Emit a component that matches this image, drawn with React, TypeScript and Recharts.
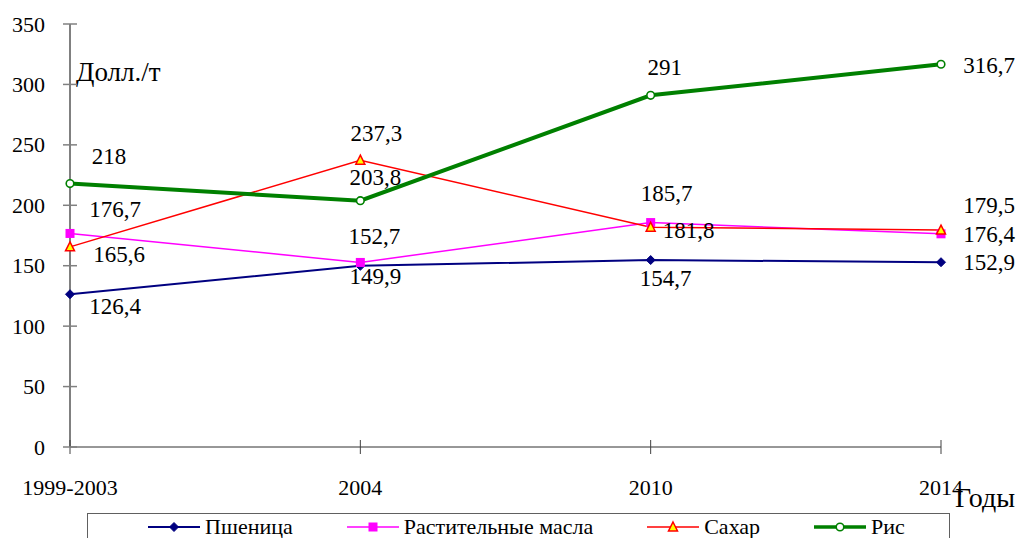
import React from "react";
import { LineChart, Line, XAxis, YAxis, Legend, LabelList } from "recharts";

const years = ["1999-2003", "2004", "2010", "2014"];
const wheat = [126.4, 149.9, 154.7, 152.9];
const oil = [176.7, 152.7, 185.7, 176.4];
const sugar = [165.6, 237.3, 181.8, 179.5];
const rice = [218, 203.8, 291, 316.7];
const yTicks = [0, 50, 100, 150, 200, 250, 300, 350];

const FONT = "Liberation Serif, Tinos, DejaVu Serif, serif";

type Key = "wheat" | "oil" | "sugar" | "rice";

const SERIES: { key: Key; name: string; color: string; width: number }[] = [
  { key: "wheat", name: "Пшеница", color: "#000080", width: 2 },
  { key: "oil", name: "Растительные масла", color: "#FF00FF", width: 1.5 },
  { key: "sugar", name: "Сахар", color: "#FF0000", width: 1.5 },
  { key: "rice", name: "Рис", color: "#008000", width: 4 },
];

// label centre offsets from each point, per series
const LABEL_OFFSETS: Record<Key, [number, number][]> = {
  wheat: [[45, 12], [15, 11], [15, 18], [48, 0]],
  oil: [[45, -24], [14, -26], [16, -29], [48, 1]],
  sugar: [[49, 8], [16, -27], [38, 3], [48, -25]],
  rice: [[39, -27], [15, -23], [14, -28], [48, 1]],
};

const data = years.map((y, i) => ({
  year: y,
  wheat: wheat[i],
  oil: oil[i],
  sugar: sugar[i],
  rice: rice[i],
}));

const textStyle = { fontFamily: FONT };

function Marker({ k, cx, cy }: { k: Key; cx: number; cy: number }) {
  if (k === "wheat")
    return (
      <polygon
        points={`${cx},${cy - 4.5} ${cx + 4.5},${cy} ${cx},${cy + 4.5} ${cx - 4.5},${cy}`}
        fill="#000080"
        stroke="#000080"
      />
    );
  if (k === "oil")
    return <rect x={cx - 4.5} y={cy - 4.5} width={9} height={9} fill="#FF00FF" />;
  if (k === "sugar")
    return (
      <polygon
        points={`${cx},${cy - 5} ${cx + 4.5},${cy + 4} ${cx - 4.5},${cy + 4}`}
        fill="#FFFF00"
        stroke="#FF0000"
        strokeWidth={1.5}
      />
    );
  return <circle cx={cx} cy={cy} r={3.8} fill="#fff" stroke="#008000" strokeWidth={1.6} />;
}

const dotFor = (k: Key) => (p: any) =>
  <Marker key={`${k}-${p.index}`} k={k} cx={p.cx} cy={p.cy} />;

const labelFor = (k: Key) => (p: any) => {
  const [dx, dy] = LABEL_OFFSETS[k][p.index] || [0, 0];
  return (
    <text
      x={p.x + dx}
      y={p.y + dy + 7.5}
      textAnchor="middle"
      style={textStyle}
      fontSize={23}
      fill="#000"
    >
      {String(p.value).replace(".", ",")}
    </text>
  );
};

const YTick = (p: any) => (
  <g>
    <line x1={p.x - 7} x2={p.x + 7} y1={p.y} y2={p.y} stroke="#808080" strokeWidth={1.5} />
    <text x={p.x - 25} y={p.y + 7.5} textAnchor="end" style={textStyle} fontSize={22} fill="#000">
      {p.payload.value}
    </text>
  </g>
);

const XTick = (p: any) => (
  <g>
    <line x1={p.x} x2={p.x} y1={p.y - 7} y2={p.y + 7} stroke="#404040" strokeWidth={1} />
    <text x={p.x} y={p.y + 48} textAnchor="middle" style={textStyle} fontSize={22} fill="#000">
      {p.payload.value}
    </text>
  </g>
);

const YLabel = (p: any) => {
  const vb = p.viewBox || {};
  return (
    <text x={vb.x + vb.width + 6} y={vb.y + 57} style={textStyle} fontSize={27} fill="#000">
      Долл./т
    </text>
  );
};

const XLabel = (p: any) => {
  const vb = p.viewBox || {};
  return (
    <text x={vb.x + vb.width + 14} y={vb.y + 60} style={textStyle} fontSize={28} fill="#000">
      Годы
    </text>
  );
};

function LegendIcon({ k, color, width }: { k: Key; color: string; width: number }) {
  return (
    <svg width={52} height={14} style={{ display: "block" }}>
      <line x1={0} x2={52} y1={7} y2={7} stroke={color} strokeWidth={width} />
      <Marker k={k} cx={26} cy={7} />
    </svg>
  );
}

const LegendBox = () => (
  <div
    style={{
      boxSizing: "border-box",
      width: 863,
      height: 34,
      border: "1px solid #606060",
      display: "flex",
      justifyContent: "center",
      alignItems: "flex-start",
      gap: 54,
      paddingTop: 2,
      paddingLeft: 16,
      fontFamily: FONT,
      fontSize: 22,
      lineHeight: "22px",
      color: "#000",
      background: "#fff",
    }}
  >
    {SERIES.map((s) => (
      <div key={s.key} style={{ display: "flex", alignItems: "center", gap: 5 }}>
        <LegendIcon k={s.key} color={s.color} width={s.width === 4 ? 3.5 : s.width} />
        <span>{s.name}</span>
      </div>
    ))}
  </div>
);

export default function App() {
  return (
    <div style={{ position: "absolute", left: 0, top: 0, width: 1021, height: 538, background: "#fff", overflow: "hidden" }}>
      <LineChart
        width={1021}
        height={538}
        data={data}
        margin={{ top: 24, right: 80, left: 10, bottom: 61 }}
      >
        <XAxis
          dataKey="year"
          height={30}
          stroke="#000"
          axisLine={{ stroke: "#303030", strokeWidth: 1 }}
          tickLine={false}
          tickSize={0}
          tickMargin={0}
          tick={<XTick />}
          interval={0}
          label={<XLabel />}
        />
        <YAxis
          width={60}
          domain={[0, 350]}
          ticks={yTicks}
          axisLine={{ stroke: "#808080", strokeWidth: 2 }}
          tickLine={false}
          tickSize={0}
          tickMargin={0}
          tick={<YTick />}
          interval={0}
          label={<YLabel />}
        />
        <Legend
          layout="horizontal"
          verticalAlign="middle"
          align="center"
          content={<LegendBox />}
          wrapperStyle={{ left: 87, top: 513, width: 863, height: 34 }}
        />
        {SERIES.map((s) => (
          <Line
            key={s.key}
            dataKey={s.key}
            name={s.name}
            type="linear"
            stroke={s.color}
            strokeWidth={s.width}
            dot={dotFor(s.key)}
            activeDot={false}
            isAnimationActive={false}
          >
            <LabelList dataKey={s.key} content={labelFor(s.key)} />
          </Line>
        ))}
      </LineChart>
    </div>
  );
}
